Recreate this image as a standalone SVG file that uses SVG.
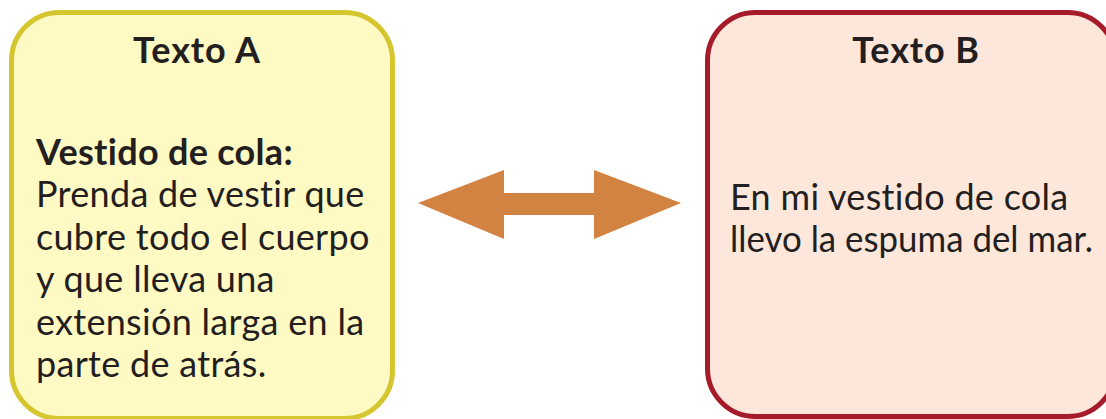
<svg xmlns="http://www.w3.org/2000/svg" width="1106" height="419" viewBox="0 0 1106 419">
<style>
.t{font-family:Lato,"Open Sans","Liberation Sans",sans-serif;font-size:36px;letter-spacing:0.3px;fill:#231f20;font-variant-ligatures:none;font-feature-settings:"liga" 0,"clig" 0}
.b{font-weight:bold}
.h{letter-spacing:0.9px}
</style>
<rect width="1106" height="419" fill="#ffffff"/>
<g id="nodeA">
<rect x="11.5" y="12.5" width="381" height="406" rx="48" ry="48" fill="#fff9c4" stroke="#d5c52f" stroke-width="5"/>
<text class="t b h" x="197" y="63" text-anchor="middle">Texto A</text>
<text class="t b" x="36" y="165">Vestido de cola:</text>
<text class="t" x="36" y="207">Prenda de vestir que</text>
<text class="t" x="36" y="250">cubre todo el cuerpo</text>
<text class="t" x="36" y="292">y que lleva una</text>
<text class="t" x="36" y="335">extensión larga en la</text>
<text class="t" x="36" y="377">parte de atrás.</text>
</g>
<g id="nodeB">
<rect x="707.5" y="12.5" width="408" height="404" rx="48" ry="48" fill="#fde7db" stroke="#a61b29" stroke-width="5"/>
<text class="t b h" x="916" y="63" text-anchor="middle">Texto B</text>
<text class="t" x="730" y="210">En mi vestido de cola</text>
<text class="t" x="730" y="252" textLength="363" lengthAdjust="spacingAndGlyphs" style="letter-spacing:0">llevo la espuma del mar.</text>
</g>
<g id="connectors">
<polygon points="418,203 504,170 504,193 594,193 594,170 681,203 594,239 594,215 504,215 504,239" fill="#d38341"/>
</g>
</svg>
